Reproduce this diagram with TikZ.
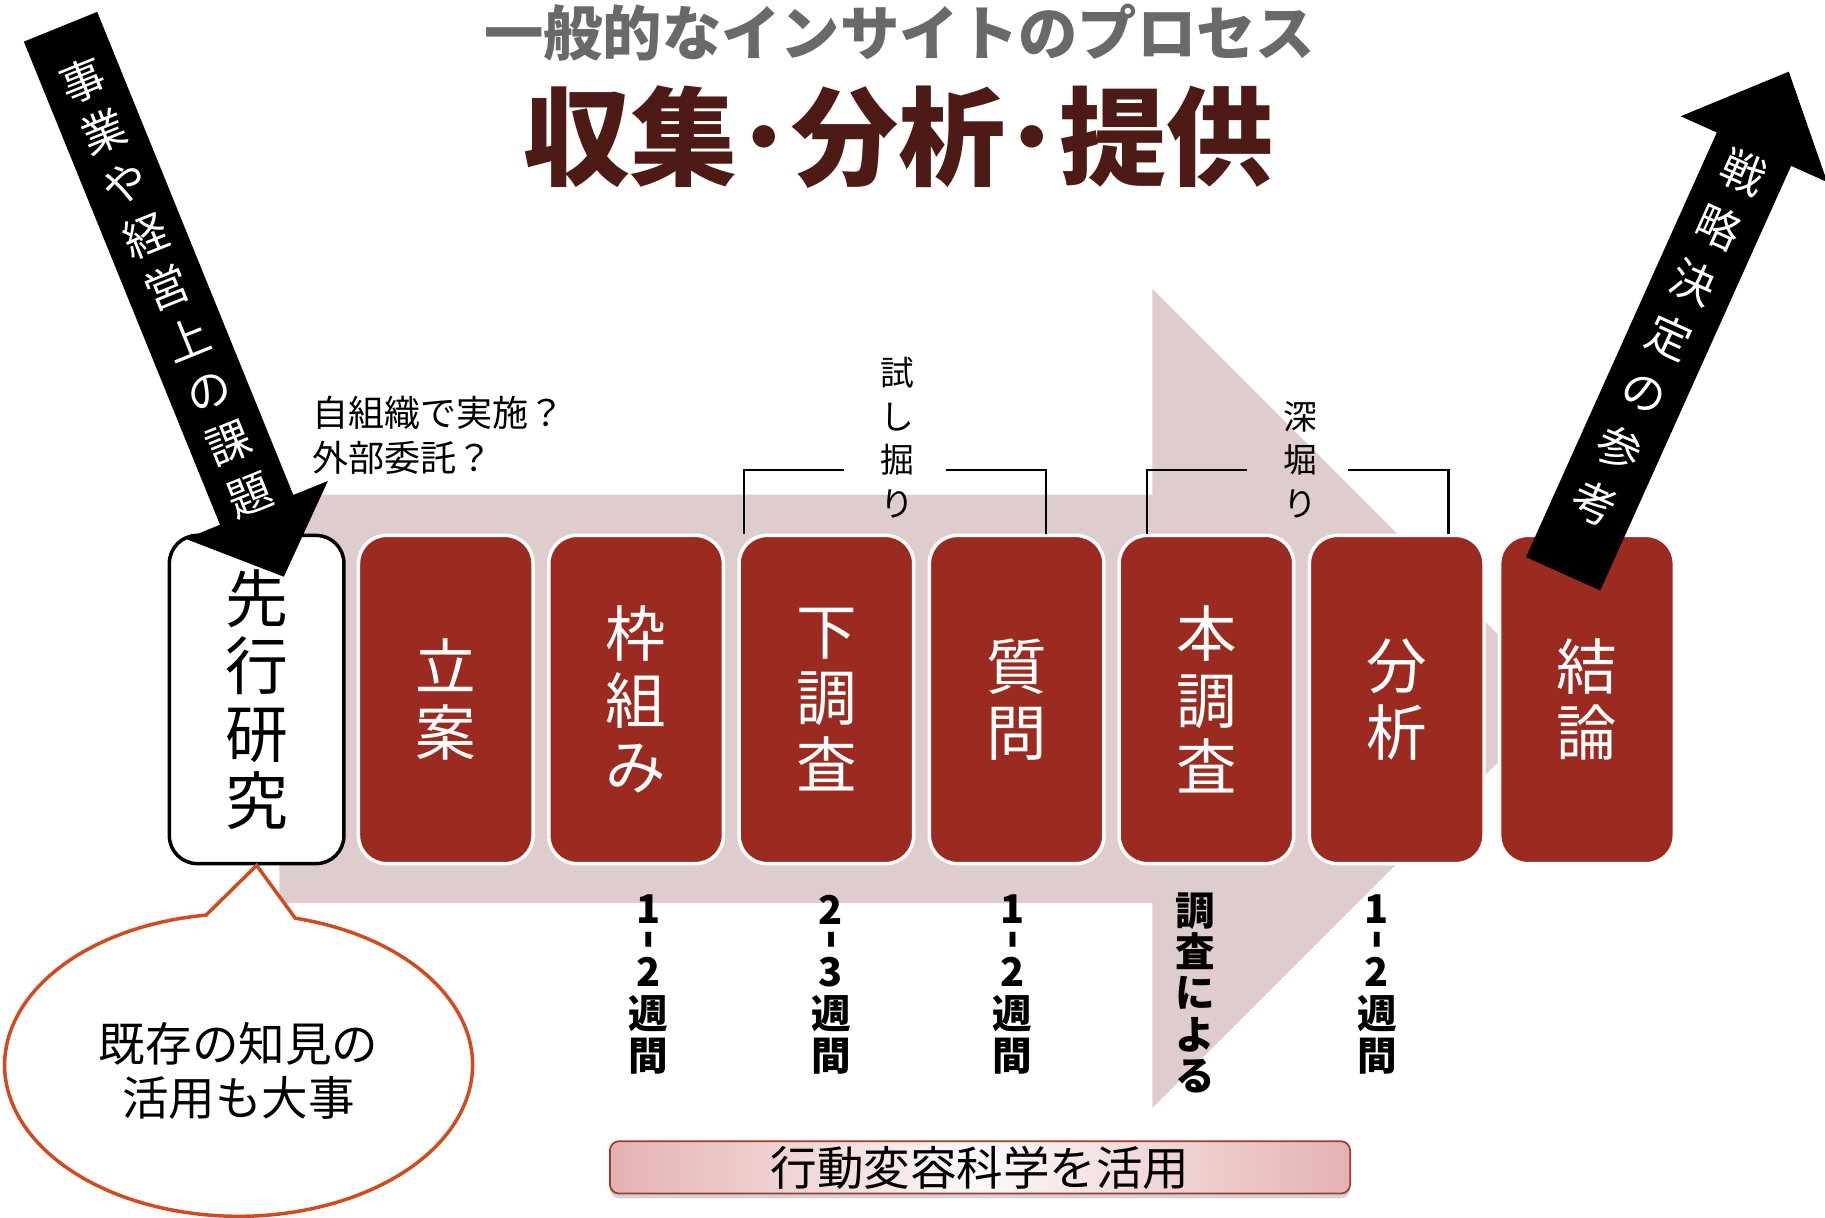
\documentclass[tikz,border=0pt]{standalone}
\usepackage{fontspec}
\setmainfont{Noto Sans CJK JP}
\usepackage{graphicx}
\usetikzlibrary{shadows,calc}
\definecolor{boxred}{HTML}{9B2B21}
\definecolor{pale}{HTML}{DFCDCD}
\definecolor{titlegray}{HTML}{6B6868}
\definecolor{titlebrown}{HTML}{4E1A16}
\definecolor{bubbleline}{HTML}{D04B1D}
\definecolor{barpink}{HTML}{E5B1B1}
\definecolor{barborder}{HTML}{A23A2E}
\newcommand{\durtick}{\raisebox{10pt}{\scalebox{1.3}[0.33]{|}}}
\tikzset{
  stepbox/.style={rectangle, rounded corners=24pt, minimum width=150pt, minimum height=282pt,
    fill=boxred, draw=white, line width=3pt, text=white, align=center, inner sep=0pt,
    font=\fontsize{52}{57}\selectfont},
  firstbox/.style={stepbox, fill=white, draw=black, text=black, font=\fontsize{54}{58}\selectfont},
  dur/.style={font=\bfseries\fontsize{34}{36}\selectfont, align=center, inner sep=0pt},
  lbl/.style={font=\fontsize{29}{37.5}\selectfont, align=center, inner sep=0pt},
  bracketline/.style={line width=1.8pt, black},
  arrowtext/.style={text=white, align=center, inner sep=0pt, font=\fontsize{38}{48}\selectfont},
  barbox/.style={rectangle, rounded corners=8pt, minimum width=636pt, minimum height=45pt,
    draw=barborder, line width=1.5pt, left color=barpink, right color=barpink, middle color=white!92!barpink,
    drop shadow={shadow xshift=0pt, shadow yshift=-4pt, opacity=0.35},
    font=\fontsize{40}{40}\selectfont, inner sep=0pt},
}
\begin{document}
\begin{tikzpicture}[x=1pt,y=-1pt]
\useasboundingbox (0,0) rectangle (1568,1046);
% pale background arrow
\fill[pale] (240,425) -- (990,425) -- (990,248) -- (1342,600) -- (990,952) -- (990,776) -- (240,776) -- cycle;
% titles
\node[font=\bfseries\fontsize{51}{51}\selectfont, text=titlegray, inner sep=0pt] (t1) at (773,28) {一般的なインサイトのプロセス};
\node[font=\bfseries\fontsize{92}{92}\selectfont, text=titlebrown, inner sep=0pt] (t2) at (772,118) {収集･分析･提供};
% boxes
\node[firstbox] (n0) at (220.5,601) {先\\行\\研\\究};
\node[stepbox] (n1) at (383,601) {立\\案};
\node[stepbox] (n2) at (546.5,601) {枠\\組\\み};
\node[stepbox] (n3) at (710,601) {下\\調\\査};
\node[stepbox] (n4) at (873.5,601) {質\\問};
\node[stepbox] (n5) at (1036.5,601) {本\\調\\査};
\node[stepbox] (n6) at (1200,601) {分\\析};
\node[stepbox] (n7) at (1363.5,601) {結\\論};
% brackets
\draw[bracketline] ($(n3.north west)+(6,0)$) |- ($(n3.north west)+(92,-55)$);
\draw[bracketline] ($(n4.north west)+(102,0)$) |- ($(n4.north west)+(16,-55)$);
\draw[bracketline] ($(n5.north west)+(25.5,0)$) |- ($(n5.north west)+(111.5,-55)$);
\draw[bracketline] ($(n6.north west)+(121,0)$) |- ($(n6.north west)+(35,-55)$);
\node[lbl] (b1) at (771,376) {試\\し\\掘\\り};
\node[lbl] (b2) at (1117,395) {深\\堀\\り};
\node[font=\fontsize{31}{38}\selectfont, align=left, anchor=west, inner sep=0pt] (q) at (268,374) {自組織で実施？\\外部委託？};
% durations
\node[dur] (d2) at (557,846) {1\\[-9pt]\durtick\\[-9pt]2\\週\\間};
\node[dur] (d3) at (714,846) {2\\[-9pt]\durtick\\[-9pt]3\\週\\間};
\node[dur] (d4) at (870,846) {1\\[-9pt]\durtick\\[-9pt]2\\週\\間};
\node[dur, font=\bfseries\fontsize{34}{35.5}\selectfont] (d5) at (1027,853) {調\\査\\に\\よ\\る};
\node[dur] (d6) at (1183,846) {1\\[-9pt]\durtick\\[-9pt]2\\週\\間};
% speech bubble
\draw[bubbleline, line width=3pt, fill=white, line join=miter]
  (n0.south) -- ($(205,915)+(284:201 and 130)$) arc[start angle=284, end angle=622, x radius=201, y radius=130] -- cycle;
\node[font=\fontsize{40}{46}\selectfont, align=center, inner sep=0pt] (bub) at (205,920) {既存の知見の\\活用も大事};
% bottom bar
\node[barbox] (bar) at (842,1003) {行動変容科学を活用};
% black arrows
\begin{scope}[shift={(52,23)}, rotate=-67.9]
\fill[black] (0,34) -- (448,34) -- (448,66) -- (510,0) -- (448,-66) -- (448,-34) -- (0,-34) -- cycle;
\end{scope}
\node[arrowtext, rotate=22] (lt) at (143,247) {事\\業\\や\\経\\営\\上\\の\\課\\題};
\begin{scope}[shift={(1343,493)}, rotate=65.8]
\fill[black] (0,35) -- (400,35) -- (400,69) -- (473,0) -- (400,-69) -- (400,-35) -- (0,-35) -- cycle;
\end{scope}
\node[arrowtext, rotate=-24.2, font=\fontsize{38}{52}\selectfont] (rt) at (1434,290) {戦\\略\\決\\定\\の\\参\\考};
\end{tikzpicture}
\end{document}
